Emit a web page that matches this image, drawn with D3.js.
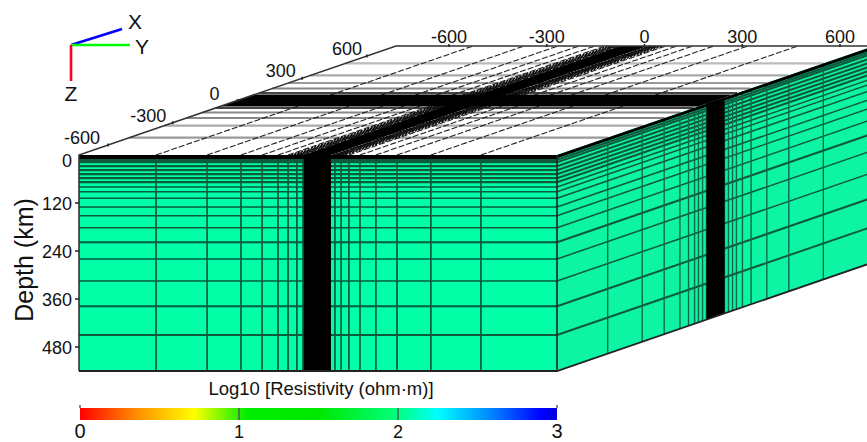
<!DOCTYPE html>
<html><head><meta charset="utf-8">
<script src="https://cdn.jsdelivr.net/npm/d3@7"></script>
<style>html,body{margin:0;padding:0;background:#fff;overflow:hidden}svg{display:block}text{font-family:"Liberation Sans",Arial,sans-serif;fill:#111}</style>
</head><body><svg id="c" width="867" height="442"></svg>
<script>
// Mesh lines (km)
const xTicks=[-600,-300,0,300,600];
const yTicks=[-600,-300,0,300,600];
const depthTicks=[0,120,240,360,480];
const colorTicks=[0,1,2,3];
const meshY=[-498,-341,-237,-172,-123,-92,-65,-46,52,71,95,129,178,243,347,501];
const fuzzY=[-82,-74,-66,-58,-52,46,50,56,62,68,76,84];
const meshX=[-500,-340,-238,-165,-125,-97,-79,-60,-42,42,60,79,97,125,165,238,340,500];
const topX=[-500,-338,-236,-162,-101,101,162,236,338,500];
const topXShade=["#999","#aaa","#888","#888","#444","#444","#888","#999","#aaa","#bbb"];
const meshZ=[12,18,28,38,48,58,68,80,92,108,130,152,182,218,260,315,378,450];
const bandY=[-44,40];
const bandXTop=[-81,81];
const bandXSide=[-42,42];
const extentY=[-735,735], extentX=[-735,735], extentZ=[0,540];
const colorStops=[[0,"#ff0000"],[0.36,"#ff9000"],[0.72,"#ffff00"],[1.05,"#00ee00"],[1.5,"#00e800"],[2,"#00ff80"],[2.25,"#00ffff"],[2.6,"#0080ff"],[2.9,"#0000ff"],[3,"#0000e0"]];

const svg=d3.select("#c");
svg.append("defs").append("filter").attr("id","soft").attr("filterUnits","userSpaceOnUse")
  .attr("x",0).attr("y",0).attr("width",867).attr("height",442)
  .append("feGaussianBlur").attr("stdDeviation",0.55);
const scene=svg.append("g").attr("filter","url(#soft)");
const sy=d3.scaleLinear().domain(extentY).range([79,557]);
const st=d3.scaleLinear().domain(extentX).range([0,1]);
const sz=d3.scaleLinear().domain(extentZ).range([155,371]);
const shiftX=317, shiftY=109;
const P=(x,y,z)=>{const t=st(x);return [sy(y)+t*shiftX, sz(z)-t*shiftY];};
const line=d3.line();
const [x0,x1]=extentX,[y0,y1]=extentY,[z0,z1]=extentZ;
function poly(pts,fill){scene.append("path").attr("d",line(pts)+"Z").attr("fill",fill);}
function seg(sel,data,f,stroke,w,dash){
  sel.append("g").selectAll("path").data(data).join("path").attr("d",d=>line(f(d))).attr("fill","none")
   .attr("stroke",stroke).attr("stroke-width",w).attr("stroke-dasharray",dash||null);
}
const zWidth=(k)=>z=>z<k?2.2:(z===218||z===378||z===450?2:1.5);
// faces
poly([P(x0,y0,z0),P(x1,y0,z0),P(x1,y1,z0),P(x0,y1,z0)],"#fff");
poly([P(x0,y0,z0),P(x0,y1,z0),P(x0,y1,z1),P(x0,y0,z1)],"#00ffa6");
poly([P(x0,y1,z0),P(x1,y1,z0),P(x1,y1,z1),P(x0,y1,z1)],"#0cf5a4");

// top face
seg(scene,topX,x=>[P(x,y0,z0),P(x,y1,z0)],(d,i)=>topXShade[i],2.2);
seg(scene,meshY,y=>[P(x0,y,z0),P(x1,y,z0)],"#222",1.1,"6 2");
seg(scene,fuzzY,y=>[P(x0,y,z0),P(x1,y,z0)],"#111",1.6,"2 1.5");
poly([P(bandXTop[0],y0,z0),P(bandXTop[0],y1,z0),P(bandXTop[1],y1,z0),P(bandXTop[1],y0,z0)],"#000");
poly([P(x0,bandY[0],z0),P(x1,bandY[0],z0),P(x1,bandY[1],z0),P(x0,bandY[1],z0)],"#000");

// front face
seg(scene,meshZ,z=>[P(x0,y0,z),P(x0,y1,z)],"#085a3e",zWidth(80));
seg(scene,meshY,y=>[P(x0,y,z0),P(x0,y,z1)],"#085a3e",1.7);
poly([P(x0,bandY[0],z0),P(x0,bandY[1],z0),P(x0,bandY[1],z1),P(x0,bandY[0],z1)],"#000");

// right face
seg(scene,meshZ,z=>[P(x0,y1,z),P(x1,y1,z)],"#085a3e",zWidth(80));
seg(scene,meshX,x=>[P(x,y1,z0),P(x,y1,z1)],"#0a6a4a",1.4);
poly([P(bandXSide[0],y1,z0),P(bandXSide[1],y1,z0),P(bandXSide[1],y1,z1),P(bandXSide[0],y1,z1)],"#000");

// heavy edges
poly([P(x0,y0,z0),P(x0,y1,z0),P(x0,y1,10),P(x0,y0,10)],"#000");
poly([P(x0,y1,z0),P(x1,y1,z0),P(x1,y1,8),P(x0,y1,8)],"#000");
seg(scene,[0],()=>[P(x0,y0,z1),P(x0,y0,z0),P(x1,y0,z0),P(x1,y1,z0)],"#333",1.6);
seg(scene,[0],()=>[P(x0,y0,z1),P(x0,y1,z1),P(x1,y1,z1)],"#222",1.8);
seg(scene,[0],()=>[P(x0,y1,z0),P(x0,y1,z1)],"#222",1.6);

// X labels on left top edge
const xLabel=d3.scaleLinear().domain([-600,600]).range([82,347]);
svg.append("g").selectAll("text").data(xTicks).join("text").attr("x",d=>xLabel(d)).attr("y",d=>P(d,y0,z0)[1]-1)
  .attr("text-anchor","middle").attr("font-size",18).text(d=>d);
seg(scene,xTicks,d=>{const p=P(d,y0,z0);return [[p[0],p[1]-1.5],[p[0],p[1]+1.5]];},"#222",1.5);

// Y labels on back edge
const yBack=d3.scaleLinear().domain([-600,600]).range([449,840]);
svg.append("g").selectAll("text").data(yTicks).join("text").attr("x",d=>yBack(d)).attr("y",42.5)
  .attr("text-anchor","middle").attr("font-size",18).text(d=>d);
seg(scene,yTicks,d=>[[yBack(d),44],[yBack(d),47]],"#222",1.5);

// depth axis
svg.append("g").selectAll("text").data(depthTicks).join("text").attr("x",72).attr("y",d=>sz(d)+(d===0?12:7))
  .attr("text-anchor","end").attr("font-size",18).text(d=>d);
seg(scene,depthTicks.slice(1),d=>[[75,sz(d)],[79,sz(d)]],"#222",1.5);
svg.append("text").attr("transform","translate(33,260) rotate(-90)").attr("text-anchor","middle")
  .attr("font-size",25).text("Depth (km)");

// orientation triad
const o=[71,45];
[[[122,29],"#0000ff"],[[130,45],"#00ff00"],[[71,81],"#ff0022"]].forEach(([e,c])=>
  svg.append("path").attr("d",line([o,e])).attr("stroke",c).attr("stroke-width",2.6).attr("fill","none"));
[["X",135,29],["Y",142,54],["Z",71,101]].forEach(([t,x,y])=>
  svg.append("text").attr("x",x).attr("y",y).attr("text-anchor","middle").attr("font-size",21).text(t));

// colour bar
const sc=d3.scaleLinear().domain([0,3]).range([80,557]);
const grad=svg.select("defs").append("linearGradient").attr("id","cb");
grad.selectAll("stop").data(colorStops).join("stop").attr("offset",d=>d[0]/3).attr("stop-color",d=>d[1]);
svg.append("rect").attr("x",sc(0)).attr("y",408).attr("width",sc(3)-sc(0)).attr("height",12).attr("fill","url(#cb)");
seg(svg,colorTicks,d=>[[sc(d),d%3===0?405:408],[sc(d),d%3===0?408:420]],"#555",1.4);
svg.append("text").attr("x",321).attr("y",395).attr("text-anchor","middle").attr("font-size",18.5).text("Log10 [Resistivity (ohm·m)]");
svg.append("g").selectAll("text").data(colorTicks).join("text").attr("x",d=>sc(d)).attr("y",d=>d%3===0?438:438)
  .attr("text-anchor","middle").attr("font-size",d=>d%3===0?20:18).text(d=>d);
</script></body></html>
